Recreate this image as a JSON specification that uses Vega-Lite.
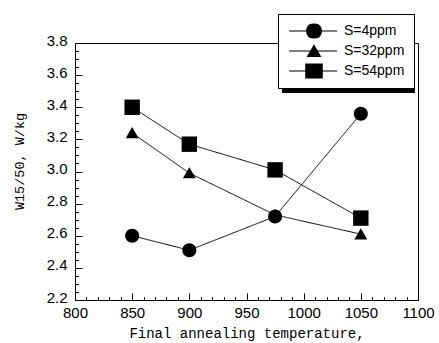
{
  "$schema": "https://vega.github.io/schema/vega-lite/v6.json",
  "autosize": {"type": "none"},
  "width": 343,
  "height": 257,
  "padding": {"left": 75, "top": 43, "right": 21, "bottom": 43},
  "background": "white",
  "data": {"values": [
    {"t": 850, "w": 2.60, "s": "S=4ppm"},
    {"t": 900, "w": 2.51, "s": "S=4ppm"},
    {"t": 975, "w": 2.72, "s": "S=4ppm"},
    {"t": 1050, "w": 3.36, "s": "S=4ppm"},
    {"t": 850, "w": 3.24, "s": "S=32ppm"},
    {"t": 900, "w": 2.99, "s": "S=32ppm"},
    {"t": 975, "w": 2.73, "s": "S=32ppm"},
    {"t": 1050, "w": 2.61, "s": "S=32ppm"},
    {"t": 850, "w": 3.40, "s": "S=54ppm"},
    {"t": 900, "w": 3.17, "s": "S=54ppm"},
    {"t": 975, "w": 3.01, "s": "S=54ppm"},
    {"t": 1050, "w": 2.71, "s": "S=54ppm"}
  ]},
  "resolve": {"axis": {"x": "independent", "y": "independent"}},
  "layer": [
    {
      "mark": {"type": "line", "strokeWidth": 1},
      "encoding": {
        "x": {"field": "t", "type": "quantitative", "scale": {"domain": [800, 1100], "nice": false, "zero": false},
          "axis": {"orient": "bottom", "offset": -3.5, "tickSize": 3.5, "ticks": true, "tickColor": "black",
            "values": [800, 810, 820, 830, 840, 850, 860, 870, 880, 890, 900, 910, 920, 930, 940, 950, 960, 970, 980, 990, 1000, 1010, 1020, 1030, 1040, 1050, 1060, 1070, 1080, 1090, 1100],
            "labelExpr": "datum.value % 50 === 0 ? format(datum.value, 'd') : ''", "domain": false,
            "labelPadding": 5, "labelFlush": false, "labelOverlap": false,
            "title": "Final annealing temperature,", "titleFontSize": 14, "titlePadding": 6}},
        "y": {"field": "w", "type": "quantitative", "scale": {"domain": [2.2, 3.8], "nice": false, "zero": false},
          "axis": {"orient": "left", "offset": -3.5, "tickSize": 3.5, "ticks": true, "tickColor": "black",
            "values": [2.2, 2.25, 2.3, 2.35, 2.4, 2.45, 2.5, 2.55, 2.6, 2.65, 2.7, 2.75, 2.8, 2.85, 2.9, 2.95, 3.0, 3.05, 3.1, 3.15, 3.2, 3.25, 3.3, 3.35, 3.4, 3.45, 3.5, 3.55, 3.6, 3.65, 3.7, 3.75, 3.8],
            "labelExpr": "abs(datum.value * 5 - round(datum.value * 5)) < 0.001 ? format(datum.value, '.1f') : ''", "domain": false,
            "labelPadding": 8, "labelOffset": -3, "labelFlush": false, "labelOverlap": false,
            "title": "W15/50, W/kg", "titleFontSize": 13.5, "titleAngle": -90, "titleX": -59.5, "titleY": 118,
            "titleBaseline": "middle", "titleAlign": "center"}},
        "color": {"field": "s", "type": "nominal",
          "scale": {"range": ["black", "black", "black"]},
          "legend": {"orient": "none", "legendX": 207, "legendY": -25, "title": null, "padding": 9.5, "rowPadding": 5, "clipHeight": 15,
            "symbolType": "stroke", "symbolOffset": 1, "labelOffset": 62.9, "labelExpr": "' '", "symbolSize": 2304, "symbolStrokeWidth": 1,
            "labelFontSize": 14, "labelFont": "Liberation Sans", "labelColor": "black", "labelLimit": 300,
            "strokeColor": "black", "fillColor": "black", "symbolStrokeColor": "black", "cornerRadius": 0, "zindex": 2}},
        "strokeDash": {"field": "s", "type": "nominal",
          "scale": {"domain": ["S=4ppm", "S=32ppm", "S=54ppm"], "range": [[1, 0], [1, 0], [1, 0]]},
          "legend": {"orient": "none", "legendX": 203, "legendY": -29, "title": null, "padding": 9.5, "rowPadding": 5, "clipHeight": 15,
            "symbolType": "stroke", "symbolOffset": 1, "labelOffset": 6.5, "symbolSize": 2304, "symbolStrokeWidth": 1,
            "labelFontSize": 14, "labelFont": "Liberation Sans", "labelColor": "black", "labelLimit": 300,
            "strokeColor": "black", "fillColor": "white", "symbolStrokeColor": "black", "cornerRadius": 0, "zindex": 3}}
      }
    },
    {
      "mark": {"type": "point", "filled": true, "color": "black", "size": 196, "opacity": 1},
      "encoding": {
        "x": {"field": "t", "type": "quantitative",
          "axis": {"orient": "bottom", "offset": -7, "values": [850, 900, 950, 1000, 1050], "ticks": true, "tickSize": 7, "tickColor": "black", "labels": false, "domain": false, "title": null}},
        "y": {"field": "w", "type": "quantitative",
          "axis": {"orient": "left", "offset": -7, "values": [2.4, 2.6, 2.8, 3.0, 3.2, 3.4, 3.6], "ticks": true, "tickSize": 7, "tickColor": "black", "labels": false, "domain": false, "title": null}},
        "shape": {"field": "s", "type": "nominal", "sort": ["S=4ppm", "S=32ppm", "S=54ppm"],
          "scale": {"range": [
            "M1,0A1,1 0 1,1 -1,0A1,1 0 1,1 1,0Z",
            "M0,-0.85L0.92,0.75L-0.92,0.75Z",
            "M-1.1,-1.1H1.1V1.1H-1.1Z"
          ]},
          "legend": {"orient": "none", "legendX": 203, "legendY": -29, "title": null, "padding": 9.5, "rowPadding": 5, "clipHeight": 15,
            "symbolOffset": 18, "labelOffset": 6.5, "labelExpr": "' '", "symbolSize": 256, "symbolStrokeWidth": 1,
            "labelFontSize": 14, "labelFont": "Liberation Sans", "labelOpacity": 0, "labelLimit": 300,
            "symbolFillColor": "black", "cornerRadius": 0, "zindex": 4}}
      }
    }
  ],
  "config": {
    "view": {"stroke": "black", "strokeWidth": 1},
    "axis": {"grid": false, "domainColor": "black", "labelColor": "black", "titleColor": "black",
      "labelFont": "Liberation Sans", "labelFontSize": 15, "titleFont": "Liberation Mono", "titleFontWeight": "normal"}
  }
}
